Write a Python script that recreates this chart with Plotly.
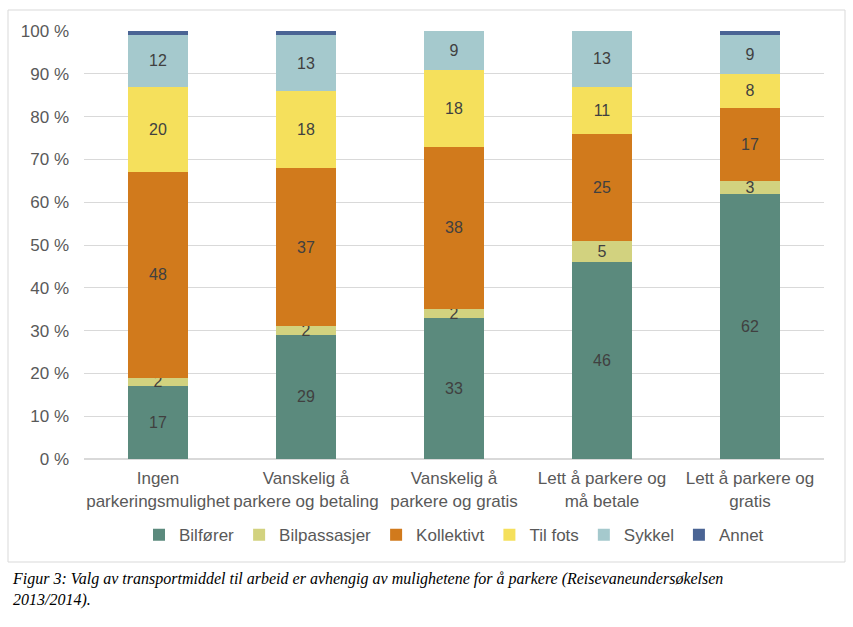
import plotly.graph_objects as go

categories = ["Ingen<br>parkeringsmulighet", "Vanskelig å<br>parkere og betaling",
              "Vanskelig å<br>parkere og gratis", "Lett å parkere og<br>må betale",
              "Lett å parkere og<br>gratis"]
series_names = ["Bilfører", "Bilpassasjer", "Kollektivt", "Til fots", "Sykkel", "Annet"]
bilforer = [17, 29, 33, 46, 62]
bilpassasjer = [2, 2, 2, 5, 3]
kollektivt = [48, 37, 38, 25, 17]
til_fots = [20, 18, 18, 11, 8]
sykkel = [12, 13, 9, 13, 9]
annet = [1, 1, 0, 0, 1]
tick_vals = [0, 10, 20, 30, 40, 50, 60, 70, 80, 90, 100]
tick_text = [f"{v} %" for v in tick_vals]

colors = ["#5b8a7d", "#d2d27f", "#d17a1c", "#f5e05c", "#a5c9cd", "#4a6494"]
values = [bilforer, bilpassasjer, kollektivt, til_fots, sykkel, annet]

fig = go.Figure()
for name, vals, col in zip(series_names, values, colors):
    show_text = name != "Annet"
    fig.add_trace(go.Bar(
        x=categories, y=vals, name=name,
        marker=dict(color=col, line=dict(width=0)),
        text=[str(v) for v in vals] if show_text else None,
        textposition="inside" if show_text else "none",
        insidetextanchor="middle",
        textangle=0,
        textfont=dict(family="Liberation Sans, Arial", size=16, color="#404040"),
        width=0.4,
    ))

fig.update_layout(
    barmode="stack",
    width=853, height=627,
    margin=dict(l=84, r=29, t=31, b=168),
    paper_bgcolor="white", plot_bgcolor="white",
    font=dict(family="Liberation Sans, Arial", size=17, color="#595959"),
    uniformtext=dict(minsize=16, mode="show"),
    showlegend=True,
    legend=dict(orientation="h", x=0.5, xanchor="center", y=-0.178, yanchor="middle",
                font=dict(size=17, color="#595959"), itemwidth=30,
                traceorder="normal", tracegroupgap=0),
    bargap=0.6,
)
fig.update_yaxes(range=[0, 100], tickvals=tick_vals, ticktext=tick_text,
                 showgrid=True, gridcolor="#d9d9d9", gridwidth=1,
                 zeroline=True, zerolinecolor="#d9d9d9", ticks="",
                 ticklabelstandoff=14, tickfont=dict(size=17, color="#595959"))
fig.update_xaxes(showgrid=False, showline=True, linecolor="#d9d9d9", ticks="",
                 ticklabelstandoff=4, tickfont=dict(size=17, color="#595959"))

# chart border
fig.add_shape(type="rect", xref="paper", yref="paper",
              x0=(8 - 84) / 740, x1=(845 - 84) / 740,
              y0=(459 - 562) / 428, y1=(459 - 10) / 428,
              line=dict(color="#d9d9d9", width=1), fillcolor="rgba(0,0,0,0)", layer="below")

fig.add_annotation(
    xref="paper", yref="paper", x=(10 - 84) / 740, y=(459 - 568) / 428,
    xanchor="left", yanchor="top", align="left", showarrow=False,
    text="<i>Figur 3: Valg av transportmiddel til arbeid er avhengig av mulighetene for å parkere (Reisevaneundersøkelsen<br>2013/2014).</i>",
    font=dict(family="Liberation Serif, serif", size=16, color="#000000"),
)

fig.write_html("out.html")
